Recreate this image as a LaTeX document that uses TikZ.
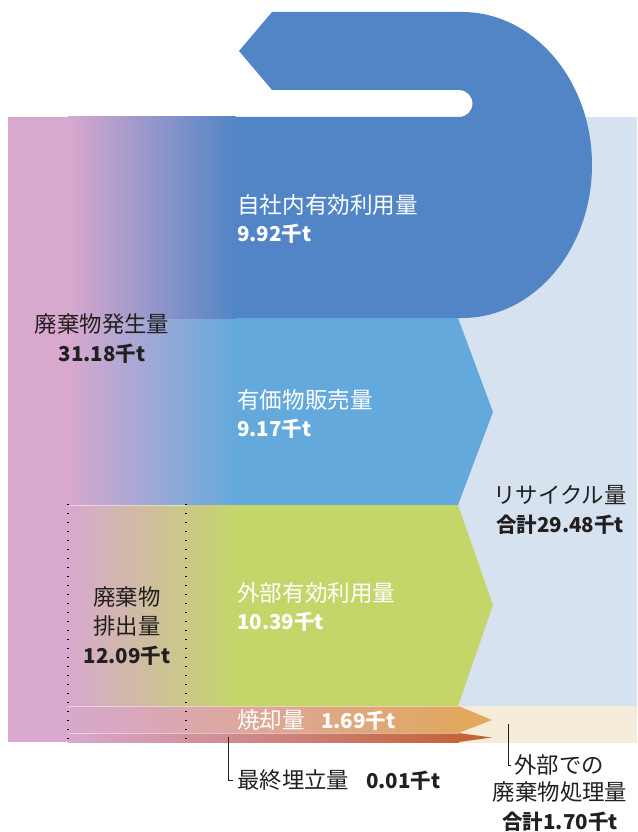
\documentclass[tikz,border=0pt]{standalone}
\usepackage{fontspec}
\setmainfont{Noto Sans CJK JP}
\usepackage{tikz}
\definecolor{wastepink}{HTML}{D8A8CE}
\definecolor{selfblue}{HTML}{5185C5}
\definecolor{salesblue}{HTML}{64A9DC}
\definecolor{reusegreen}{HTML}{C4D66A}
\definecolor{burnorange}{HTML}{E1A85E}
\definecolor{landfillred}{HTML}{C5633A}
\definecolor{recyclebg}{HTML}{D6E2EF}
\definecolor{disposalbg}{HTML}{F5ECD9}
\definecolor{labelink}{HTML}{231F20}
\newcommand{\flowband}[4]{
    % band body with its arrow tip
    \fill[#4] (235,#1) -- (458,#1) -- (493,#3) -- (458,#2) -- (235,#2) -- cycle;
    % fade in from the pink bar
    \shade[left color=wastepink, right color=#4] (68,#1) rectangle (235.5,#2);
}
% amounts are set a little smaller than the words
\newcommand{\amount}[1]{{\fontsize{20.5}{28}\selectfont\bfseries #1}}
\tikzset{
    whitelabel/.style={text=white, anchor=west, align=left, inner sep=0pt,
        font=\fontsize{22.6}{28}\selectfont},
    inklabel/.style={text=labelink, align=center, inner sep=0pt,
        font=\fontsize{22.4}{29}\selectfont},
    dotline/.style={black, line width=1.1pt, dash pattern=on 1.1pt off 7.9pt},
    leader/.style={labelink, line width=0.7pt},
    seam/.style={white, opacity=0.45, line width=0.8pt}
}

\begin{document}
\begin{tikzpicture}
    \begin{scope}[yscale=-1, x=1pt, y=1pt]
        \useasboundingbox (0,0) rectangle (637,832);
        % recycling and disposal areas behind the arrow tips
        \fill[recyclebg] (455,117) rectangle (637,706);
        \fill[disposalbg] (455,706) rectangle (637,743);
        % pink bar of the generated waste
        \fill[wastepink] (8,117) rectangle (68.5,742);

        % outward flows
        \flowband{318}{505}{412}{salesblue}
        \flowband{505}{706}{605}{reusegreen}

        % incineration
        \shade[left color=wastepink, right color=burnorange] (68,706) rectangle (459,733);
        \fill[burnorange] (458.5,706) -- (492,720) -- (458.5,733) -- cycle;
        % final landfill
        \shade[left color=wastepink, right color=landfillred] (68,733) rectangle (459,742);
        \fill[landfillred] (458.5,733) -- (492,737.5) -- (458.5,742) -- cycle;

        % in-house reuse loop
        \shade[left color=wastepink, right color=selfblue] (68,117) rectangle (235.5,318);
        \fill[selfblue] (235,117) -- (459,117)
            arc[start angle=90, end angle=-90, radius=13.5]
            -- (272,90) -- (239,51) -- (272,12) -- (462,12)
            arc[start angle=-90, end angle=90, x radius=130, y radius=153]
            -- (235,318) -- cycle;

        % faint seams between the lower bands
        \draw[seam] (68,505) -- (186,505);
        \draw[seam] (68,706) -- (459,706);
        \draw[seam] (68,733) -- (459,733);

        % bounds of the discharged waste
        \draw[dotline] (68,504) -- (68,744);
        \draw[dotline] (186,504) -- (186,744);

        % labels
        \node[whitelabel] (selfuse) at (237,219) {自社内有効利用量\\\amount{9.92千t}};
        \node[whitelabel] (sales) at (237,414) {有価物販売量\\\amount{9.17千t}};
        \node[whitelabel] (reuse) at (237,606.5) {外部有効利用量\\\amount{10.39千t}};
        \node[whitelabel] (burn) at (237,720) {焼却量\hspace{16pt}\amount{1.69千t}};
        \node[inklabel] (generated) at (102,339) {廃棄物発生量\\\amount{31.18千t}};
        \node[inklabel] (discharged) at (127,626) {廃棄物\\排出量\\\amount{12.09千t}};
        \node[inklabel] (recycled) at (560,509.5) {リサイクル量\\\amount{合計29.48千t}};
        \node[inklabel, anchor=west] (landfill) at (237,780) {最終埋立量\hspace{17pt}\amount{0.01千t}};
        \node[inklabel] (outsidehead) at (559,765) {外部での};
        \node[inklabel] (outsidebody) at (560,807) {廃棄物処理量\\\amount{合計1.70千t}};

        % leader lines
        \coordinate (landfilltip) at (228,737);
        \draw[leader] (landfilltip) |- ([xshift=-4pt]landfill.west);
        \coordinate (outsidetip) at (508,724);
        \draw[leader] (outsidetip) |- ([xshift=-3pt]outsidehead.west);
    \end{scope}
\end{tikzpicture}
\end{document}
